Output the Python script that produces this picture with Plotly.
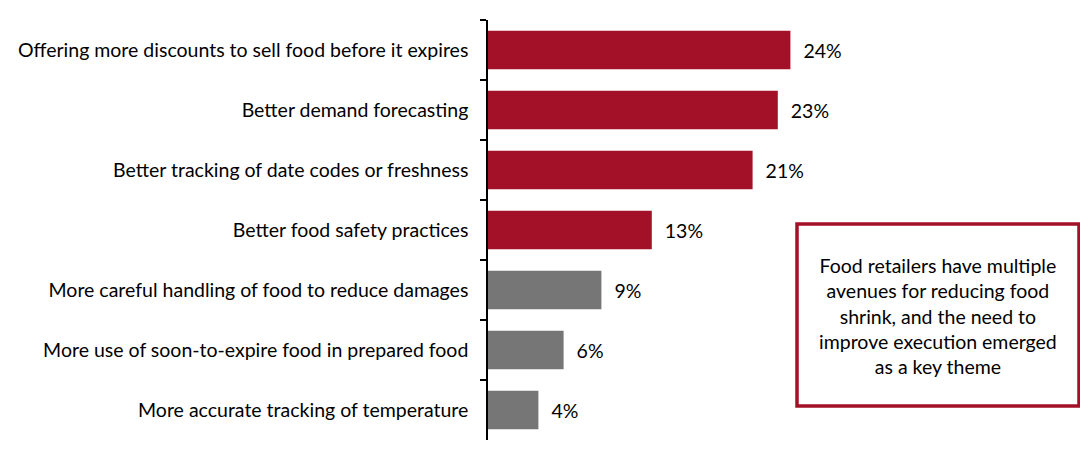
import plotly.graph_objects as go

categories = [
    "Offering more discounts to sell food before it expires",
    "Better demand forecasting",
    "Better tracking of date codes or freshness",
    "Better food safety practices",
    "More careful handling of food to reduce damages",
    "More use of soon-to-expire food in prepared food",
    "More accurate tracking of temperature",
]
values = [24, 23, 21, 13, 9, 6, 4]
highlight = [True, True, True, True, False, False, False]

RED = "#A31129"
GRAY = "#767676"
FONT = "Lato, Carlito, Calibri, sans-serif"
FS = 19.5

note = ("Food retailers have multiple<br>avenues for reducing food<br>"
        "shrink, and the need to<br>improve execution emerged<br>as a key theme")

# the page body adds an 8px margin, so the figure is drawn 8px smaller
OFF = 8
W, H = 1088 - OFF, 452 - OFF
L, T, B = 488 - OFF, 20 - OFF, 12
PW, PH = W - L, H - T - B

def px(x):
    return (x - OFF - L) / PW

def py(y):
    return (T + PH - (y - OFF)) / PH

fig = go.Figure(
    go.Bar(
        x=values,
        y=categories,
        orientation="h",
        marker=dict(color=[RED if h else GRAY for h in highlight], line_width=0),
        text=[f"  {v}%" for v in values],
        textposition="outside",
        textfont=dict(size=FS, color="#000000", family=FONT),
        cliponaxis=False,
    )
)

fig.add_shape(
    type="rect", xref="paper", yref="paper",
    x0=px(797), x1=px(1079), y0=py(406), y1=py(224),
    line=dict(color=RED, width=3.5), fillcolor="white", layer="above",
)
fig.add_annotation(
    xref="paper", yref="paper", x=px(938), y=py(316),
    xanchor="center", yanchor="middle",
    text=note, showarrow=False, align="center",
    font=dict(size=FS, color="#000000", family=FONT),
)

fig.update_layout(
    width=W, height=H,
    margin=dict(l=L, r=0, t=T, b=B, autoexpand=False),
    plot_bgcolor="white", paper_bgcolor="white",
    showlegend=False,
    bargap=0.36,
    font=dict(family=FONT, size=FS, color="#000000"),
    xaxis=dict(range=[0, PW / 12.6], visible=False, fixedrange=True),
    yaxis=dict(
        autorange="reversed",
        showline=True, linecolor="#000000", linewidth=1.5,
        ticks="outside", ticklen=6, tickcolor="#000000", tickwidth=1.5,
        tickson="boundaries", ticklabelstandoff=14,
        showgrid=False, tickfont=dict(size=FS, family=FONT, color="#000000"),
    ),
)

fig.write_html("out.html")
